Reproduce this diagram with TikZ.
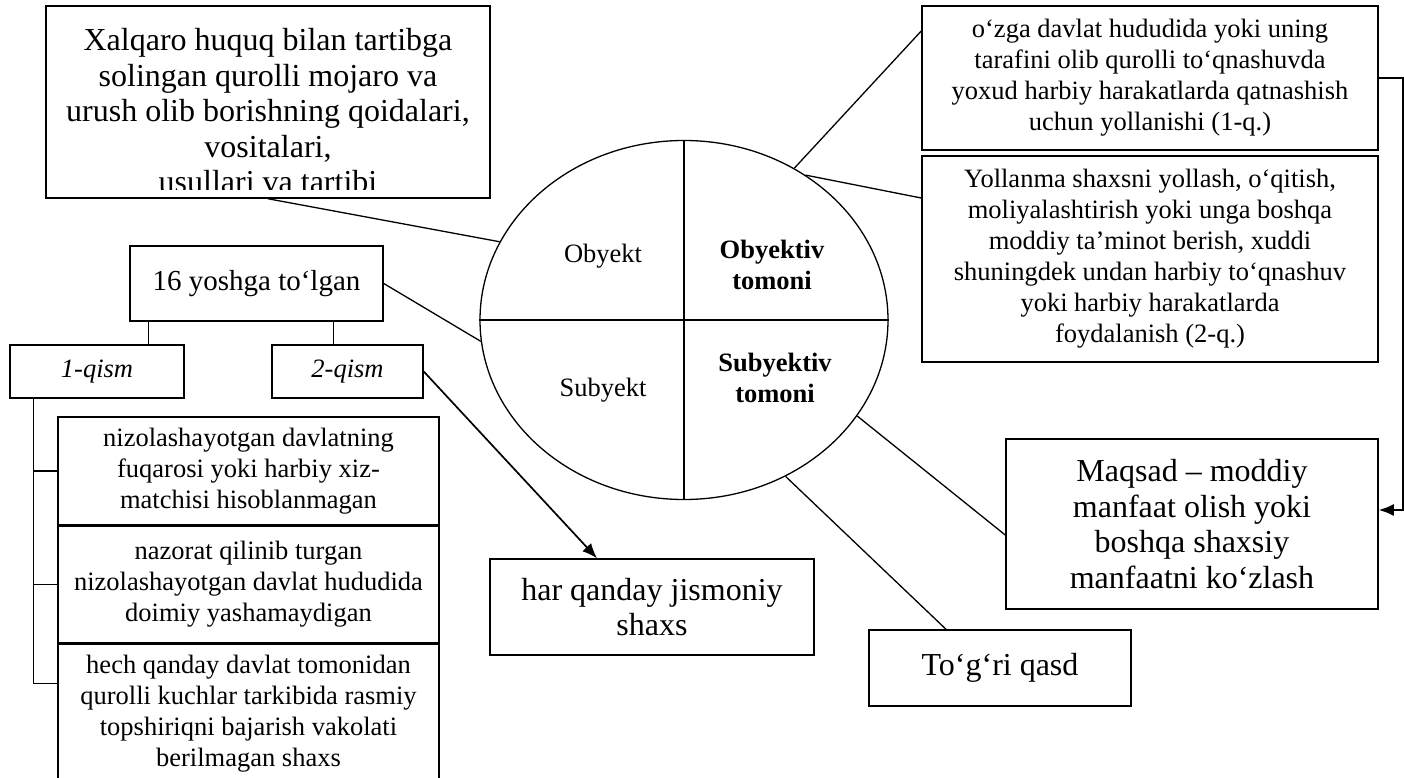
\documentclass[tikz,border=0pt]{standalone}
\usepackage{fontspec}
\setmainfont{Liberation Serif}
\usetikzlibrary{arrows.meta,positioning,shapes.geometric}

\newcommand{\bigtxt}{\fontsize{32}{35.5}\selectfont}
\newcommand{\agetxt}{\fontsize{29}{34}\selectfont}
\newcommand{\smalltxt}{\fontsize{26.5}{31}\selectfont}

\begin{document}
\begin{tikzpicture}[
    x=1pt, y=-1pt,
    box/.style={draw, line width=1.5pt, inner sep=0pt, align=center, font=\smalltxt},
    link/.style={line width=1.3pt},
    arrow/.style={-{Latex[length=15pt, width=12pt]}, line width=1.7pt}
  ]
    \useasboundingbox (0,0) rectangle (1404,778);

    % central ellipse with four parts
    \node[draw, ellipse, line width=1.3pt, minimum width=408pt, minimum height=359pt, inner sep=0pt] (core) at (684,320) {};
    \draw[link] (core.north) -- (core.south);
    \draw[link] (core.west) -- (core.east);
    \node[font=\smalltxt] (obj) at (603,256) {Obyekt};
    \node[font=\smalltxt\bfseries, align=center] (objside) at (772,265) {Obyektiv\\tomoni};
    \node[font=\smalltxt] (subj) at (603,390) {Subyekt};
    \node[font=\smalltxt\bfseries, align=center] (subjside) at (775,378) {Subyektiv\\tomoni};

    % object box (text runs out of the frame)
    \node[box, minimum width=444pt, minimum height=192pt] (law) at (268,102) {};
    \begin{scope}
      \clip (law.north west) rectangle ([yshift=9pt]law.south east);
      \node[font=\bigtxt, align=center] (lawtext) at (268,111) {Xalqaro huquq bilan tartibga\\solingan qurolli mojaro va\\urush olib borishning qoidalari,\\vositalari,\\usullari va tartibi};
    \end{scope}

    % subject side
    \node[box, font=\agetxt, minimum width=253pt, minimum height=75pt] (age) at (256.5,283.5) {16 yoshga to‘lgan};
    \node[box, font=\smalltxt\itshape, minimum width=174pt, minimum height=53pt] (part1) at (97,371.5) {1-qism};
    \node[box, font=\smalltxt\itshape, minimum width=151pt, minimum height=53pt] (part2) at (347.5,371.5) {2-qism};
    \node[box, minimum width=381pt, minimum height=108pt] (cond1) at (248.5,471) {nizolashayotgan davlatning\\fuqarosi yoki harbiy xiz-\\matchisi hisoblanmagan};
    \node[box, minimum width=381pt, minimum height=116pt, below=0pt of cond1] (cond2) {nazorat qilinib turgan\\nizolashayotgan davlat hududida\\doimiy yashamaydigan};
    \node[box, minimum width=381pt, minimum height=140pt, below=0pt of cond2] (cond3) {hech qanday davlat tomonidan\\qurolli kuchlar tarkibida rasmiy\\topshiriqni bajarish vakolati\\berilmagan shaxs};
    \node[box, font=\bigtxt, minimum width=324pt, minimum height=96pt] (anyone) at (652,607) {har qanday jismoniy\\shaxs};

    % objective and subjective side
    \node[box, minimum width=456pt, minimum height=144pt] (hire1) at (1150,78) {o‘zga davlat hududida yoki uning\\tarafini olib qurolli to‘qnashuvda\\yoxud harbiy harakatlarda qatnashish\\uchun yollanishi (1-q.)};
    \node[box, minimum width=456pt, minimum height=206pt] (hire2) at (1150,259) {Yollanma shaxsni yollash, o‘qitish,\\moliyalashtirish yoki unga boshqa\\moddiy ta’minot berish, xuddi\\shuningdek undan harbiy to‘qnashuv\\yoki harbiy harakatlarda\\foydalanish (2-q.)};
    \node[box, font=\bigtxt, minimum width=372pt, minimum height=170pt] (motive) at (1192,524) {Maqsad -- moddiy\\manfaat olish yoki\\boshqa shaxsiy\\manfaatni ko‘zlash};
    \node[box, font=\bigtxt, minimum width=262pt, minimum height=76pt] (intent) at (1000,668) {To‘g‘ri qasd};

    % connectors
    \draw[link] (law.south) -- (core.157);
    \draw[link] (age.east) -- (core.186);
    \draw[link] (core.54) -- ([yshift=47pt]hire1.west);
    \draw[link] (core.50) -- ([yshift=61pt]hire2.west);
    \draw[link] (core.331) -- ([yshift=-11pt]motive.west);
    \draw[link] (core.303) -- ([xshift=-54pt]intent.north);
    \draw[link] ([xshift=19pt]age.south west) -- ([xshift=19pt]age.south west |- part1.north);
    \draw[link] ([xshift=-14pt]part2.north) -- ([xshift=-14pt]part2.north |- age.south);
    \coordinate (brk) at ([xshift=24pt]part1.south west);
    \draw[link] (brk) |- ([yshift=-40pt]cond3.north west);
    \draw[link] (cond1.west -| brk) -- (cond1.west);
    \draw[link] (cond2.west -| brk) -- (cond2.west);
    \draw[arrow] (part2.east) -- ([xshift=-55pt]anyone.north);
    \draw[arrow] (hire1.east) -- ++(24,0) |- ([yshift=14pt]motive.east);
  \end{tikzpicture}
\end{document}
